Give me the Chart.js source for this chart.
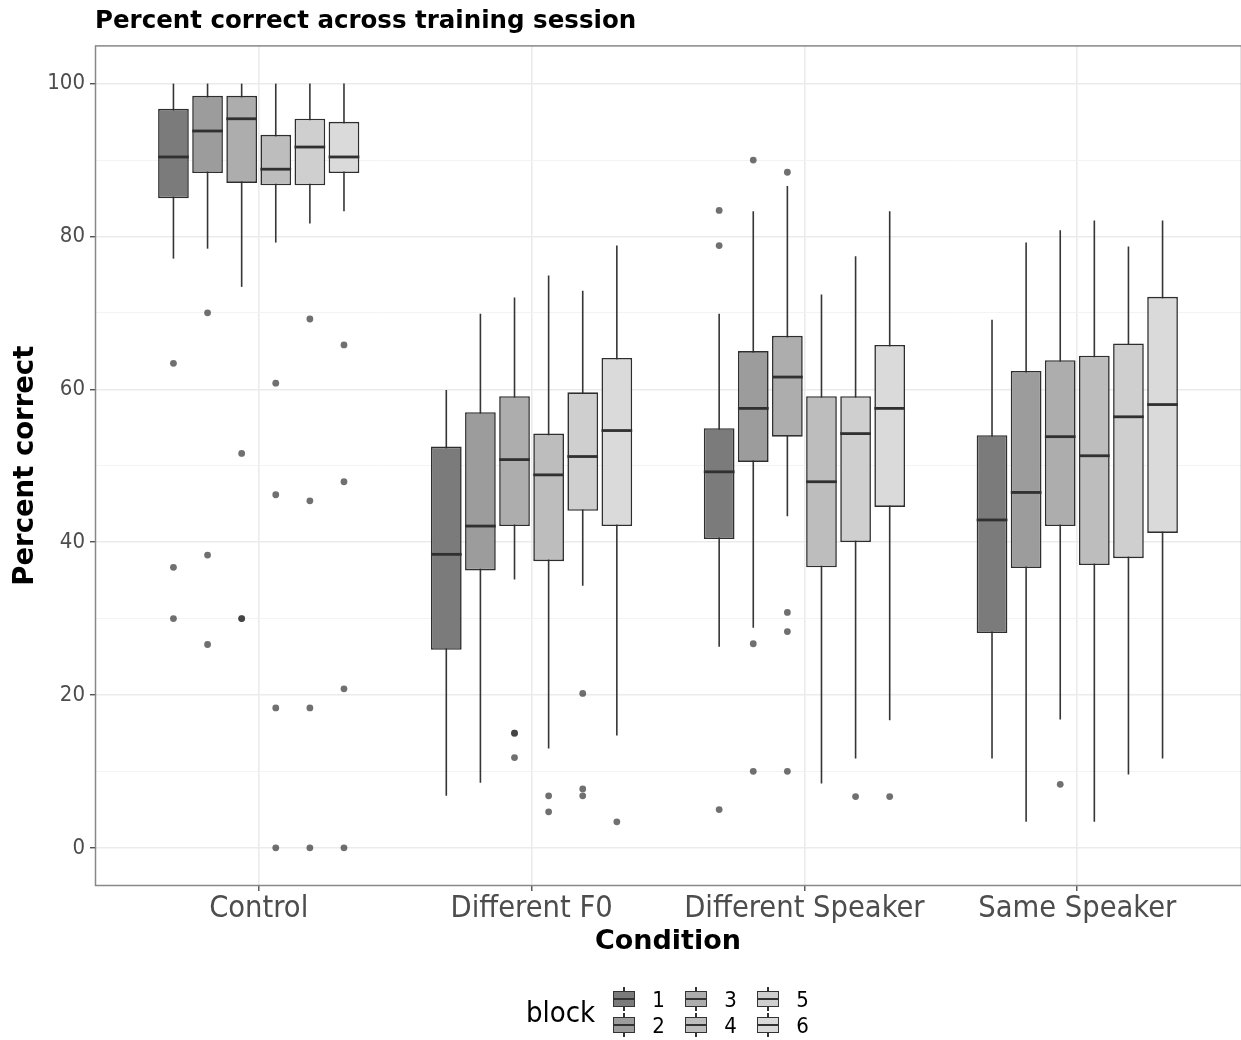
<!DOCTYPE html>
<html>
<head>
<meta charset="utf-8">
<script src="https://cdn.jsdelivr.net/npm/chart.js@4.4.0/dist/chart.umd.min.js"></script>
<style>
  body { margin: 0; background: #fff; overflow: hidden; }
  #wrap { position: relative; width: 1241px; height: 1040px; }
  #legend { position: absolute; left: 526px; top: 986px; display: flex; align-items: center;
            font-family: "DejaVu Sans Condensed", "DejaVu Sans", sans-serif; color: #000; }
  #legend .ttl { font-size: 29px; margin-right: 18px; }
  #legend .grid { display: grid; grid-template-rows: 26px 26px; grid-auto-flow: column; grid-auto-columns: 72px; }
  #legend .item { display: flex; align-items: center; font-size: 22px; }
  .key { position: relative; display: inline-block; width: 22px; height: 24px; margin-right: 17px; }
  .key .wh { position: absolute; left: 10px; top: 0; width: 1.5px; height: 24px; background: #333; }
  .key .box { position: absolute; left: 0; top: 4px; width: 20px; height: 14px; border: 1px solid #333; }
  .key .med { position: absolute; left: 0; right: 0; top: 6px; height: 2px; background: #333; }
</style>
</head>
<body>
<div id="wrap">
  <canvas id="chart"></canvas>
  <div id="legend"></div>
</div>
<script>
const conditions = ['Control', 'Different F0', 'Different Speaker', 'Same Speaker'];
const blocks = ['1', '2', '3', '4', '5', '6'];
const yTicks = [0, 10, 20, 30, 40, 50, 60, 70, 80, 90, 100];

// rows: block 1..6, columns: conditions
const whiskerLow = [
  [77.1,  6.8, 26.3, 11.7],
  [78.4,  8.5, 28.8,  3.4],
  [73.4, 35.1, 43.4, 16.8],
  [79.2, 13.0,  8.4,  3.4],
  [81.7, 34.3, 11.7,  9.6],
  [83.3, 14.7, 16.7, 11.7]
];
const q1 = [
  [85.0, 25.9, 40.4, 28.1],
  [88.3, 36.3, 50.5, 36.6],
  [87.0, 42.1, 53.8, 42.1],
  [86.7, 37.5, 36.7, 37.0],
  [86.7, 44.1, 40.0, 37.9],
  [88.3, 42.1, 44.6, 41.2]
];
const median = [
  [90.4, 38.4, 49.2, 42.9],
  [93.8, 42.1, 57.5, 46.5],
  [95.4, 50.8, 61.6, 53.8],
  [88.8, 48.8, 47.9, 51.3],
  [91.7, 51.2, 54.2, 56.4],
  [90.4, 54.6, 57.5, 58.0]
];
const q3 = [
  [96.7, 52.5, 54.9, 54.0],
  [98.4, 57.0, 65.0, 62.4],
  [98.4, 59.1, 67.0, 63.8],
  [93.3, 54.2, 59.1, 64.4],
  [95.4, 59.6, 59.1, 66.0],
  [95.0, 64.1, 65.8, 72.1]
];
const whiskerHigh = [
  [100, 59.9, 69.9, 69.1],
  [100, 69.9, 83.3, 79.2],
  [100, 72.0, 86.6, 80.8],
  [100, 74.9, 72.4, 82.1],
  [100, 72.9, 77.4, 78.7],
  [100, 78.8, 83.3, 82.1]
];
const outliers = [
  [[63.4, 36.7, 30.0], [], [83.4, 78.8, 5.0], []],
  [[70.0, 38.3, 26.6], [], [90.0, 26.7, 10.0], []],
  [[51.6, 30.0, 30.0], [15.0, 15.0, 11.8], [88.4, 30.8, 28.3, 10.0], [8.3]],
  [[60.8, 46.2, 18.3, 0], [6.8, 4.7], [], []],
  [[69.2, 45.4, 18.3, 0], [20.2, 7.7, 6.8], [6.7], []],
  [[65.8, 47.9, 20.8, 0], [3.4], [6.7], []]
];

const fills = ['#7b7b7b', '#9c9c9c', '#adadad', '#bdbdbd', '#cfcfcf', '#dadada'];
const groupWidth = 0.75;
const narrow = '"DejaVu Sans Condensed", "DejaVu Sans", sans-serif';
const wide = '"DejaVu Sans", sans-serif';

const boxDatasets = blocks.map((b, bi) => ({
  label: b,
  type: 'bar',
  data: conditions.map((c, ci) => ({ x: ci, y: [q1[bi][ci], q3[bi][ci]] })),
  backgroundColor: fills[bi],
  borderColor: '#2e2e2e',
  borderWidth: 1.6,
  borderSkipped: false,
  categoryPercentage: groupWidth,
  barPercentage: 0.9
}));

const outlierDatasets = blocks.map((b, bi) => ({
  label: 'out' + b,
  type: 'scatter',
  data: conditions.flatMap((c, ci) =>
    outliers[bi][ci].map(v => ({ x: ci + (bi - 2.5) * groupWidth / blocks.length, y: v }))),
  pointRadius: 3.4,
  pointBackgroundColor: 'rgba(51,51,51,0.7)',
  pointBorderWidth: 0
}));

const boxParts = {
  id: 'boxParts',
  beforeDatasetsDraw(chart) {
    const ctx = chart.ctx, y = chart.scales.y, a = chart.chartArea;
    ctx.save();
    ctx.strokeStyle = '#888';
    ctx.lineWidth = 1.5;
    ctx.strokeRect(a.left + 0.5, a.top + 0.5, a.right - a.left, a.bottom - a.top - 1);
    ctx.strokeStyle = '#353535';
    ctx.lineWidth = 1.6;
    blocks.forEach((b, bi) => {
      chart.getDatasetMeta(bi).data.forEach((bar, ci) => {
        ctx.beginPath();
        ctx.moveTo(bar.x, y.getPixelForValue(whiskerLow[bi][ci]));
        ctx.lineTo(bar.x, y.getPixelForValue(whiskerHigh[bi][ci]));
        ctx.stroke();
      });
    });
    ctx.restore();
  },
  afterDatasetsDraw(chart) {
    const ctx = chart.ctx, y = chart.scales.y;
    ctx.save();
    ctx.strokeStyle = '#303030';
    ctx.lineWidth = 2.8;
    blocks.forEach((b, bi) => {
      chart.getDatasetMeta(bi).data.forEach((bar, ci) => {
        const py = y.getPixelForValue(median[bi][ci]);
        ctx.beginPath();
        ctx.moveTo(bar.x - bar.width / 2, py);
        ctx.lineTo(bar.x + bar.width / 2, py);
        ctx.stroke();
      });
    });
    ctx.restore();
  }
};

const chart = new Chart(document.getElementById('chart'), {
  type: 'bar',
  data: { datasets: [...boxDatasets, ...outlierDatasets] },
  options: {
    responsive: true,
    maintainAspectRatio: false,
    animation: false,
    layout: { autoPadding: false, padding: { left: 0, right: -2, top: 0, bottom: 74 } },
    scales: {
      x: {
        type: 'linear',
        offset: false,
        min: -0.6,
        max: 3.6,
        afterBuildTicks: s => { s.ticks = conditions.map((c, i) => ({ value: i })); },
        afterFit: s => { s.height = 80; s.paddingLeft = 0; s.paddingRight = 0; },
        border: { display: false },
        grid: { offset: false, color: '#ebebeb', lineWidth: 1.6, tickLength: 5, tickColor: '#333', tickWidth: 1.2 },
        ticks: {
          callback: v => conditions[v],
          color: '#4d4d4d',
          padding: 3,
          maxRotation: 0,
          autoSkip: false,
          font: { family: narrow, size: 30.5, lineHeight: 1 }
        },
        title: {
          display: true,
          text: 'Condition',
          color: '#000',
          padding: { top: 0, bottom: 8 },
          font: { family: wide, size: 27, weight: 'bold', lineHeight: 1.2 }
        }
      },
      y: {
        min: -5,
        max: 105,
        afterBuildTicks: s => { s.ticks = yTicks.map(v => ({ value: v })); },
        afterFit: s => { s.width = 95; },
        border: { display: false },
        grid: {
          color: c => c.tick && c.tick.value % 20 === 0 ? '#ebebeb' : '#f3f3f3',
          lineWidth: c => c.tick && c.tick.value % 20 === 0 ? 1.5 : 1,
          tickLength: 5,
          tickColor: c => c.tick && c.tick.value % 20 === 0 ? '#333' : 'rgba(0,0,0,0)',
          tickWidth: 1.2
        },
        ticks: {
          callback: v => v % 20 === 0 ? String(v) : '',
          color: '#4d4d4d',
          padding: 5,
          font: { family: narrow, size: 22 }
        },
        title: {
          display: true,
          text: 'Percent correct',
          color: '#000',
          padding: { top: 9, bottom: 0 },
          font: { family: wide, size: 27.5, weight: 'bold', lineHeight: 1.2 }
        }
      }
    },
    plugins: {
      legend: { display: false },
      tooltip: { enabled: false },
      title: {
        display: true,
        text: 'Percent correct across training session',
        align: 'start',
        fullSize: false,
        color: '#000',
        padding: { top: 7, bottom: 9 },
        font: { family: wide, size: 24.5, weight: 'bold', lineHeight: 1.2 }
      }
    }
  },
  plugins: [boxParts]
});

// legend: block keys in two rows, like the original
const legend = document.getElementById('legend');
legend.innerHTML = '<span class="ttl">block</span><div class="grid">' +
  boxDatasets.map(d =>
    '<div class="item"><span class="key"><i class="wh"></i><b class="box" style="background:' +
    d.backgroundColor + '"><i class="med"></i></b></span>' + d.label + '</div>').join('') +
  '</div>';
</script>
</body>
</html>
